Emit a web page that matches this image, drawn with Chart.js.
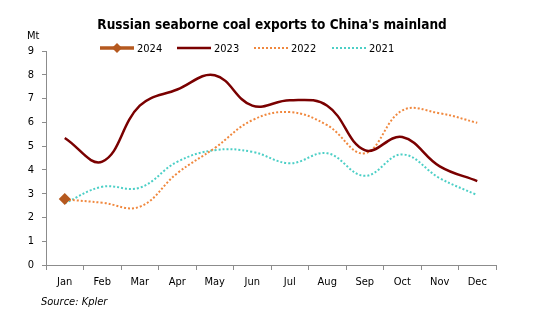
<!DOCTYPE html>
<html><head><meta charset="utf-8">
<script src="https://cdn.jsdelivr.net/npm/chart.js@4.4.1/dist/chart.umd.min.js"></script>
<style>html,body{margin:0;padding:0;background:#fff}#wrap{width:538px;height:325px;position:relative}</style>
</head><body>
<div id="wrap"><canvas id="c" width="538" height="325"></canvas></div>
<script>
const months = ["Jan","Feb","Mar","Apr","May","Jun","Jul","Aug","Sep","Oct","Nov","Dec"];
const y2024 = [2.78,null,null,null,null,null,null,null,null,null,null,null];
const y2023 = [5.34,4.35,6.7,7.38,7.98,6.7,6.93,6.7,4.83,5.38,4.15,3.53];
const y2022 = [2.76,2.62,2.45,3.86,4.92,6.09,6.43,5.88,4.7,6.5,6.38,5.98];
const y2021 = [2.6,3.29,3.25,4.34,4.83,4.76,4.28,4.7,3.75,4.65,3.65,2.94];
const yTicks = [0,1,2,3,4,5,6,7,8,9];

const FONT = "'DejaVu Sans Condensed', 'DejaVu Sans', sans-serif";
const C24 = '#B5591F', C23 = '#7A0000', C22 = '#F0883E', C21 = '#4CCFC6';

const legendItems = [
  {label:'2024', color:C24, width:3.5, dash:[], marker:true},
  {label:'2023', color:C23, width:2.5, dash:[]},
  {label:'2022', color:C22, width:2, dash:[2,2]},
  {label:'2021', color:C21, width:2, dash:[2,2]}
];

const overlay = {
  id:'overlay',
  afterDraw(chart){
    const ctx = chart.ctx;
    ctx.save();
    ctx.fillStyle = '#000';
    ctx.font = "bold 13.5px " + FONT;
    ctx.textAlign = 'center'; ctx.textBaseline = 'middle';
    ctx.fillText("Russian seaborne coal exports to China's mainland", 272, 25);
    ctx.font = "11px " + FONT;
    ctx.textAlign = 'left';
    ctx.fillText('Mt', 27, 36);
    ctx.font = "italic 11px " + FONT;
    ctx.fillText('Source: Kpler', 41, 302);
    // legend
    const xs = [100,177,254,332];
    legendItems.forEach((it,i)=>{
      const x = xs[i], y = 48;
      ctx.strokeStyle = it.color; ctx.lineWidth = it.width; ctx.setLineDash(it.dash);
      ctx.beginPath(); ctx.moveTo(x,y); ctx.lineTo(x+34,y); ctx.stroke();
      ctx.setLineDash([]);
      if(it.marker){
        ctx.fillStyle = it.color;
        ctx.beginPath(); ctx.moveTo(x+17,y-5); ctx.lineTo(x+22,y); ctx.lineTo(x+17,y+5); ctx.lineTo(x+12,y); ctx.closePath(); ctx.fill();
      }
      ctx.fillStyle = '#000';
      ctx.font = "11px " + FONT;
      ctx.textAlign='left';
      ctx.fillText(it.label, x+37, y+1);
    });
    ctx.restore();
  }
};

new Chart(document.getElementById('c'), {
  type:'line',
  data:{
    labels: months,
    datasets:[
      {label:'2021', data:y2021, borderColor:C21, borderWidth:2, borderDash:[2,2], pointRadius:0, tension:0.4, order:4},
      {label:'2022', data:y2022, borderColor:C22, borderWidth:2, borderDash:[2,2], pointRadius:0, tension:0.4, order:3},
      {label:'2023', data:y2023, borderColor:C23, borderWidth:2.5, pointRadius:0, tension:0.4, order:2},
      {label:'2024', data:y2024, borderColor:C24, backgroundColor:C24, borderWidth:3, pointStyle:'rectRot', pointRadius:6, pointBorderWidth:0, tension:0.4, order:1}
    ]
  },
  options:{
    responsive:false, animation:false, devicePixelRatio:1,
    layout:{padding:{top:51,right:42,left:0,bottom:0}},
    plugins:{legend:{display:false}, tooltip:{enabled:false}},
    scales:{
      x:{
        offset:true,
        grid:{display:true, drawOnChartArea:false, offset:true, color:'#8c8c8c', tickLength:5, tickColor:'#8c8c8c'},
        border:{color:'#8c8c8c', width:1},
        ticks:{font:{family:FONT,size:11}, color:'#000', padding:6, maxRotation:0, autoSkip:false},
        afterFit(s){ s.height = 60; }
      },
      y:{
        min:0, max:9,
        afterBuildTicks(s){ s.ticks = yTicks.map(v=>({value:v})); },
        grid:{display:true, drawOnChartArea:false, color:'#8c8c8c', tickLength:4, tickColor:'#8c8c8c'},
        border:{color:'#8c8c8c', width:1},
        ticks:{font:{family:FONT,size:11}, color:'#000', padding:8},
        afterFit(s){ s.width = 46; }
      }
    }
  },
  plugins:[overlay]
});
</script>
</body></html>
